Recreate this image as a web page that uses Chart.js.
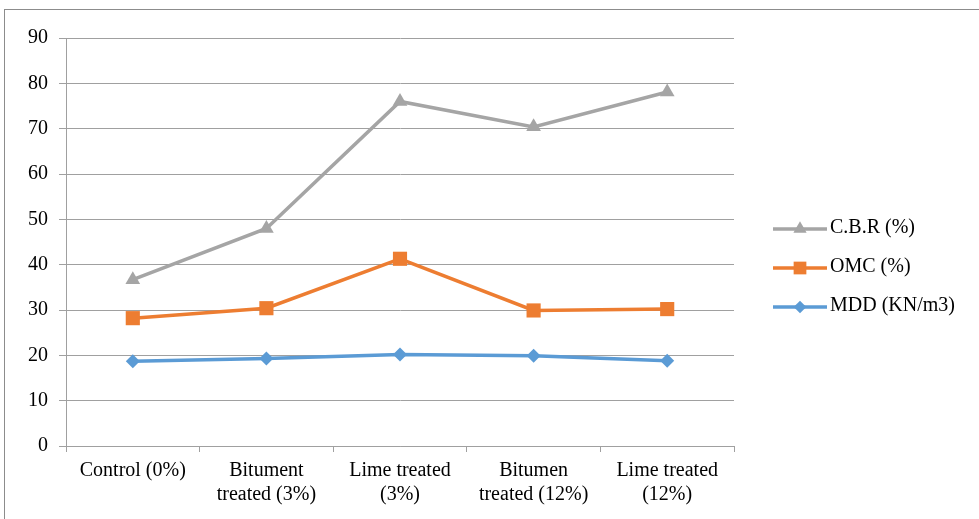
<!DOCTYPE html>
<html>
<head>
<meta charset="utf-8">
<script src="https://cdn.jsdelivr.net/npm/chart.js@4/dist/chart.umd.min.js"></script>
<style>
  html, body { margin: 0; padding: 0; background: #fff; }
  #wrap { position: relative; width: 979px; height: 519px; overflow: hidden; background: #fff; }
  #frame { position: absolute; left: 4px; top: 9px; width: 1200px; height: 800px; border: 1px solid #8c8c8c; box-sizing: border-box; }
  #c { position: absolute; left: 0; top: 0; }
</style>
</head>
<body>
<div id="wrap">
  <div id="frame"></div>
  <canvas id="c" width="979" height="519"></canvas>
</div>
<script>
const categories = [
  "Control (0%)",
  ["Bitument", "treated (3%)"],
  ["Lime treated", "(3%)"],
  ["Bitumen", "treated (12%)"],
  ["Lime treated", "(12%)"]
];
const cbrValues = [36.7, 48.0, 76.0, 70.4, 78.1];
const omcValues = [28.2, 30.4, 41.3, 29.9, 30.2];
const mddValues = [18.7, 19.3, 20.2, 19.9, 18.8];
const seriesLabels = ["C.B.R (%)", "OMC (%)", "MDD (KN/m3)"];
const yTicks = [0, 10, 20, 30, 40, 50, 60, 70, 80, 90];

const FONT = "'Liberation Serif', 'Times New Roman', serif";
const FS = 20;

const legendPlugin = {
  id: 'customLegend',
  afterDraw(chart) {
    const ctx = chart.ctx;
    const rows = [229, 268, 307];
    chart.data.datasets.forEach((ds, i) => {
      const y = rows[i];
      ctx.save();
      ctx.strokeStyle = ds.borderColor;
      ctx.lineWidth = 3.5;
      ctx.beginPath();
      ctx.moveTo(773, y);
      ctx.lineTo(827, y);
      ctx.stroke();
      ctx.fillStyle = ds.pointBackgroundColor;
      ctx.strokeStyle = ds.pointBackgroundColor;
      ctx.lineWidth = 0;
      Chart.helpers.drawPoint(ctx, {
        pointStyle: ds.pointStyle,
        rotation: 0,
        radius: ds.pointRadius * 0.9,
        borderWidth: 0
      }, 800, y);
      ctx.fillStyle = '#000';
      ctx.font = FS + 'px ' + FONT;
      ctx.textBaseline = 'middle';
      ctx.textAlign = 'left';
      ctx.fillText(ds.label, 830, y - 1);
      ctx.restore();
    });
  }
};

new Chart(document.getElementById('c'), {
  type: 'line',
  data: {
    labels: categories,
    datasets: [
      {
        label: seriesLabels[0], data: cbrValues,
        borderColor: '#A5A5A5', backgroundColor: '#A5A5A5',
        pointBackgroundColor: '#A5A5A5', pointBorderColor: '#A5A5A5',
        pointStyle: 'triangle', pointRadius: 8.5, pointBorderWidth: 0,
        borderWidth: 3.5, tension: 0
      },
      {
        label: seriesLabels[1], data: omcValues,
        borderColor: '#ED7D31', backgroundColor: '#ED7D31',
        pointBackgroundColor: '#ED7D31', pointBorderColor: '#ED7D31',
        pointStyle: 'rect', pointRadius: 10, pointBorderWidth: 0,
        borderWidth: 3.5, tension: 0
      },
      {
        label: seriesLabels[2], data: mddValues,
        borderColor: '#5B9BD5', backgroundColor: '#5B9BD5',
        pointBackgroundColor: '#5B9BD5', pointBorderColor: '#5B9BD5',
        pointStyle: 'rectRot', pointRadius: 7, pointBorderWidth: 0,
        borderWidth: 3.5, tension: 0
      }
    ]
  },
  options: {
    responsive: false,
    animation: false,
    devicePixelRatio: 1,
    layout: { padding: { left: 0, top: 38, right: 245, bottom: 13 } },
    plugins: {
      legend: { display: false },
      tooltip: { enabled: false }
    },
    scales: {
      x: {
        offset: true,
        grid: { offset: true, drawOnChartArea: false, drawTicks: true, tickLength: 6, color: '#a0a0a0' },
        border: { display: true, color: '#a0a0a0', width: 1 },
        ticks: { color: '#000', font: { family: FONT, size: FS, lineHeight: 1.2 }, padding: 7, maxRotation: 0, autoSkip: false },
        afterFit(scale) { scale.height = 60; }
      },
      y: {
        min: 0, max: 90,
        afterBuildTicks(scale) { scale.ticks = yTicks.map(v => ({ value: v })); },
        grid: { color: '#a0a0a0', drawTicks: true, tickLength: 7, lineWidth: 1 },
        border: { display: true, color: '#a0a0a0', width: 1 },
        ticks: { color: '#000', font: { family: FONT, size: FS }, padding: 11 },
        afterFit(scale) { scale.width = 66; }
      }
    }
  },
  plugins: [legendPlugin]
});
</script>
</body>
</html>
